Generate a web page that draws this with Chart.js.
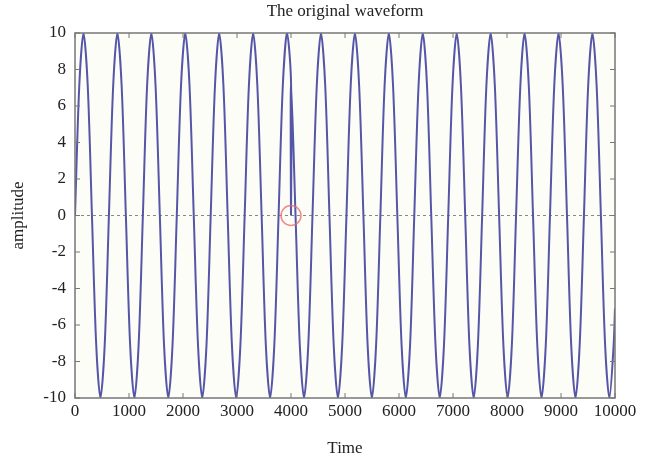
<!DOCTYPE html>
<html lang="en">
<head>
    <meta charset="UTF-8">
    <script src="https://cdn.jsdelivr.net/npm/chart.js"></script>
    <title>The original waveform</title>
    <style>
        body {
            margin: 0;
            padding: 0;
            background-color: #fff;
        }

        .container {
            width: 658px;
            height: 462px;
        }
    </style>
</head>
<body>
    <div class="container">
        <canvas id="waveChart" width="658" height="462"></canvas>
    </div>

    <script>
        // Time samples (one every 1/8 period, plus the glitch at 4000)
        const times = [
            0, 79, 157, 236, 314, 393, 471, 550,
            628, 707, 785, 864, 942, 1021, 1100, 1178,
            1257, 1335, 1414, 1492, 1571, 1649, 1728, 1806,
            1885, 1963, 2042, 2121, 2199, 2278, 2356, 2435,
            2513, 2592, 2670, 2749, 2827, 2906, 2985, 3063,
            3142, 3220, 3299, 3377, 3456, 3534, 3613, 3691,
            3770, 3848, 3927, 4000, 4000, 4000, 4084, 4163,
            4241, 4320, 4398, 4477, 4555, 4634, 4712, 4791,
            4869, 4948, 5027, 5105, 5184, 5262, 5341, 5419,
            5498, 5576, 5655, 5733, 5812, 5890, 5969, 6048,
            6126, 6205, 6283, 6362, 6440, 6519, 6597, 6676,
            6754, 6833, 6912, 6990, 7069, 7147, 7226, 7304,
            7383, 7461, 7540, 7618, 7697, 7775, 7854, 7933,
            8011, 8090, 8168, 8247, 8325, 8404, 8482, 8561,
            8639, 8718, 8796, 8875, 8954, 9032, 9111, 9189,
            9268, 9346, 9425, 9503, 9582, 9660, 9739, 9817,
            9896, 9975, 10000
        ];

        // Amplitude at each of those times
        const amps = [
            0, 7.1, 10, 7.1, 0, -7.1, -10, -7.1,
            0, 7.1, 10, 7.1, 0, -7.1, -10, -7.1,
            0, 7.1, 10, 7.1, 0, -7.1, -10, -7.1,
            0, 7.1, 10, 7.1, 0, -7.1, -10, -7.1,
            0, 7.1, 10, 7.1, 0, -7.1, -10, -7.1,
            0, 7.1, 10, 7.1, 0, -7.1, -10, -7.1,
            0, 7.1, 10, 7.4, 0, 7.4, 0, -7.1,
            -10, -7.1, 0, 7.1, 10, 7.1, 0, -7.1,
            -10, -7.1, 0, 7.1, 10, 7.1, 0, -7.1,
            -10, -7.1, 0, 7.1, 10, 7.1, 0, -7.1,
            -10, -7.1, 0, 7.1, 10, 7.1, 0, -7.1,
            -10, -7.1, 0, 7.1, 10, 7.1, 0, -7.1,
            -10, -7.1, 0, 7.1, 10, 7.1, 0, -7.1,
            -10, -7.1, 0, 7.1, 10, 7.1, 0, -7.1,
            -10, -7.1, 0, 7.1, 10, 7.1, 0, -7.1,
            -10, -7.1, 0, 7.1, 10, 7.1, 0, -7.1,
            -10, -7.1, -5.1
        ];

        const xTicks = [0, 1000, 2000, 3000, 4000, 5000, 6000, 7000, 8000, 9000, 10000];
        const yTicks = [-10, -8, -6, -4, -2, 0, 2, 4, 6, 8, 10];

        // the point marked with the red circle
        const markTime = 4000;
        const markAmp = 0;

        const points = times.map((t, i) => ({ x: t, y: amps[i] }));

        const serif = '"Liberation Serif", "DejaVu Serif", serif';

        // box, inward ticks, zero line and marker, drawn like the old matlab figure
        const frame = {
            id: 'frame',
            beforeDatasetsDraw(chart) {
                const { ctx, chartArea: a, scales } = chart;
                ctx.save();
                ctx.fillStyle = '#fdfdf7';
                ctx.fillRect(a.left, a.top, a.right - a.left, a.bottom - a.top);
                const y0 = scales.y.getPixelForValue(0);
                ctx.strokeStyle = '#888';
                ctx.lineWidth = 1;
                ctx.setLineDash([3, 3]);
                ctx.beginPath();
                ctx.moveTo(a.left, y0);
                ctx.lineTo(a.right, y0);
                ctx.stroke();
                ctx.restore();
            },
            afterDatasetsDraw(chart) {
                const { ctx, chartArea: a, scales } = chart;
                ctx.save();
                // red circle
                ctx.strokeStyle = 'rgba(235, 110, 110, 0.8)';
                ctx.lineWidth = 1.5;
                ctx.beginPath();
                ctx.arc(scales.x.getPixelForValue(markTime), scales.y.getPixelForValue(markAmp), 10, 0, Math.PI * 2);
                ctx.stroke();

                ctx.strokeStyle = '#777';
                ctx.lineWidth = 1.5;
                ctx.strokeRect(a.left, a.top, a.right - a.left, a.bottom - a.top);
                ctx.lineWidth = 1;
                ctx.beginPath();
                xTicks.forEach(v => {
                    const px = scales.x.getPixelForValue(v);
                    ctx.moveTo(px, a.bottom); ctx.lineTo(px, a.bottom - 5);
                    ctx.moveTo(px, a.top); ctx.lineTo(px, a.top + 5);
                });
                yTicks.forEach(v => {
                    const py = scales.y.getPixelForValue(v);
                    ctx.moveTo(a.left, py); ctx.lineTo(a.left + 5, py);
                    ctx.moveTo(a.right, py); ctx.lineTo(a.right - 5, py);
                });
                ctx.stroke();
                ctx.restore();
            }
        };

        const ctx = document.getElementById('waveChart').getContext('2d');
        const waveChart = new Chart(ctx, {
            type: 'line',
            data: {
                datasets: [{
                    label: 'amplitude',
                    data: points,
                    borderColor: '#5656a8',
                    borderWidth: 2,
                    pointRadius: 0,
                    tension: 0.3,
                    fill: false
                }]
            },
            options: {
                responsive: false,
                animation: false,
                layout: {
                    padding: { top: 33, right: 43, bottom: 0, left: 0 }
                },
                plugins: {
                    legend: { display: false },
                    tooltip: { enabled: false },
                    title: { display: false }
                },
                scales: {
                    x: {
                        type: 'linear',
                        min: 0,
                        max: 10000,
                        afterBuildTicks: s => { s.ticks = xTicks.map(v => ({ value: v })); },
                        afterFit: s => { s.height = 64; },
                        grid: { display: false },
                        border: { display: false },
                        ticks: {
                            color: '#222',
                            font: { family: serif, size: 17 },
                            padding: -5,
                            maxRotation: 0,
                            callback: v => String(v)
                        },
                        title: {
                            display: true,
                            text: 'Time',
                            color: '#222',
                            font: { family: serif, size: 17 },
                            padding: { top: 0, bottom: 3 }
                        }
                    },
                    y: {
                        min: -10,
                        max: 10,
                        afterBuildTicks: s => { s.ticks = yTicks.map(v => ({ value: v })); },
                        afterFit: s => { s.width = 75; },
                        grid: { display: false },
                        border: { display: false },
                        ticks: {
                            color: '#222',
                            font: { family: serif, size: 17 },
                            padding: 1
                        },
                        title: {
                            display: true,
                            text: 'amplitude',
                            color: '#222',
                            font: { family: serif, size: 17 },
                            padding: { top: 8, bottom: 0 }
                        }
                    }
                }
            },
            plugins: [frame, {
                id: 'topTitle',
                afterDraw(chart) {
                    const c = chart.ctx;
                    c.save();
                    c.fillStyle = '#222';
                    c.font = '17px ' + serif;
                    c.textAlign = 'center';
                    c.textBaseline = 'middle';
                    const a = chart.chartArea;
                    c.fillText('The original waveform', (a.left + a.right) / 2, 12);
                    c.restore();
                }
            }]
        });
    </script>
</body>
</html>
